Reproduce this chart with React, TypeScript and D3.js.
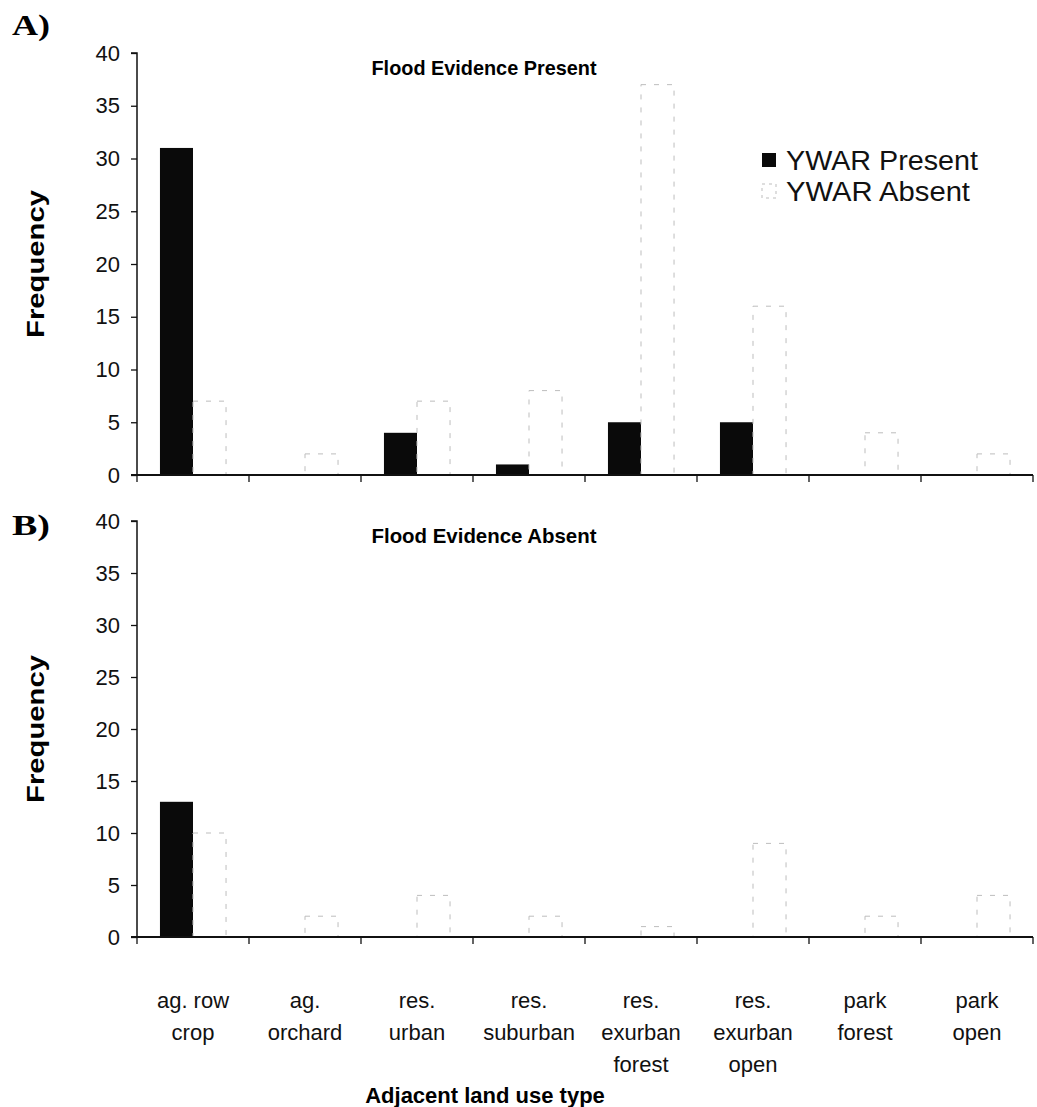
import { useEffect, useRef } from "react";
import * as d3 from "d3";

const categories = [
  ["ag. row", "crop"],
  ["ag.", "orchard"],
  ["res.", "urban"],
  ["res.", "suburban"],
  ["res.", "exurban", "forest"],
  ["res.", "exurban", "open"],
  ["park", "forest"],
  ["park", "open"],
];
const catKeys = categories.map((c) => c.join(" "));

// Panel A: flood evidence present
const floodPresentYwarPresent = [31, 0, 4, 1, 5, 5, 0, 0];
const floodPresentYwarAbsent = [7, 2, 7, 8, 37, 16, 4, 2];
// Panel B: flood evidence absent
const floodAbsentYwarPresent = [13, 0, 0, 0, 0, 0, 0, 0];
const floodAbsentYwarAbsent = [10, 2, 4, 2, 1, 9, 2, 4];

const yTicks = [0, 5, 10, 15, 20, 25, 30, 35, 40];
const seriesNames = ["YWAR Present", "YWAR Absent"];

const W = 1037;
const H = 1107;
const SANS = "'Liberation Sans', Arial, sans-serif";

export default function App() {
  const ref = useRef<SVGSVGElement | null>(null);

  useEffect(() => {
    if (!ref.current) return;
    const svg = d3.select(ref.current);
    svg.selectAll("*").remove();

    const x0 = d3
      .scaleBand<string>()
      .domain(catKeys)
      .range([137, 1033])
      .paddingInner(0.41)
      .paddingOuter(0.205);
    const x1 = d3
      .scaleBand<string>()
      .domain(seriesNames)
      .range([0, x0.bandwidth()]);
    const step = x0.step();
    const edges = catKeys.map((k) => (x0(k) as number) - (step - x0.bandwidth()) / 2);
    edges.push(1033);

    function panel(
      top: number,
      bottom: number,
      present: number[],
      absent: number[],
      title: string,
      letter: string,
      letterY: number
    ) {
      const y = d3.scaleLinear().domain([0, 40]).range([bottom, top]);
      const g = svg.append("g");

      // bars
      const rows = catKeys.map((k, i) => ({ k, p: present[i], a: absent[i] }));
      g.selectAll("rect.pres")
        .data(rows)
        .join("rect")
        .attr("class", "pres")
        .attr("x", (d) => (x0(d.k) as number) + (x1("YWAR Present") as number))
        .attr("y", (d) => y(d.p))
        .attr("width", x1.bandwidth())
        .attr("height", (d) => bottom - y(d.p))
        .attr("fill", "#0a0a0a");
      g.selectAll("rect.abs")
        .data(rows)
        .join("rect")
        .attr("class", "abs")
        .attr("x", (d) => (x0(d.k) as number) + (x1("YWAR Absent") as number))
        .attr("y", (d) => y(d.a))
        .attr("width", x1.bandwidth())
        .attr("height", (d) => bottom - y(d.a))
        .attr("fill", "white")
        .attr("stroke", "#bdbdbd")
        .attr("stroke-width", 1)
        .attr("stroke-dasharray", "5,8");

      // y axis
      const ya = g
        .append("g")
        .attr("transform", "translate(137,0)")
        .call(d3.axisLeft(y).tickValues(yTicks).tickSize(6).tickPadding(11));
      ya.select(".domain").attr("stroke", "#111").attr("stroke-width", 1.5).attr("d", `M-6,${top}H0V${bottom}`);
      ya.selectAll(".tick line").attr("stroke", "#111").attr("stroke-width", 1.3);
      ya.selectAll(".tick text")
        .attr("font-family", SANS)
        .attr("font-size", 22)
        .attr("fill", "#111");

      // x axis
      g.append("line")
        .attr("x1", 131)
        .attr("x2", 1033)
        .attr("y1", bottom)
        .attr("y2", bottom)
        .attr("stroke", "#111")
        .attr("stroke-width", 2);
      g.selectAll("line.xt")
        .data(edges)
        .join("line")
        .attr("class", "xt")
        .attr("x1", (d) => d)
        .attr("x2", (d) => d)
        .attr("y1", bottom)
        .attr("y2", bottom + 7)
        .attr("stroke", "#111")
        .attr("stroke-width", 1.3);

      g.append("text")
        .attr("x", 484)
        .attr("y", top + 22)
        .attr("text-anchor", "middle")
        .attr("font-family", SANS)
        .attr("font-weight", "bold")
        .attr("font-size", 21)
        .attr("textLength", 225)
        .attr("lengthAdjust", "spacingAndGlyphs")
        .text(title);

      g.append("text")
        .attr("transform", `translate(44,${(top + bottom) / 2}) rotate(-90)`)
        .attr("text-anchor", "middle")
        .attr("font-family", SANS)
        .attr("font-weight", "bold")
        .attr("font-size", 24)
        .attr("textLength", 148)
        .attr("lengthAdjust", "spacingAndGlyphs")
        .text("Frequency");

      g.append("text")
        .attr("x", 12)
        .attr("y", letterY)
        .attr("font-family", "'Liberation Serif', 'Times New Roman', serif")
        .attr("font-weight", "bold")
        .attr("font-size", 30)
        .attr("textLength", 38)
        .attr("lengthAdjust", "spacingAndGlyphs")
        .text(letter);
    }

    panel(53, 475, floodPresentYwarPresent, floodPresentYwarAbsent, "Flood Evidence Present", "A)", 35);
    panel(521, 937, floodAbsentYwarPresent, floodAbsentYwarAbsent, "Flood Evidence Absent", "B)", 535);

    // legend
    const lg = svg.append("g");
    seriesNames.forEach((s, i) => {
      const ly = 160 + i * 31;
      lg.append("rect")
        .attr("x", 762)
        .attr("y", ly - 7)
        .attr("width", 14)
        .attr("height", 14)
        .attr("fill", i === 0 ? "#0a0a0a" : "white")
        .attr("stroke", i === 0 ? "none" : "#bdbdbd")
        .attr("stroke-dasharray", "3,4");
      lg.append("text")
        .attr("x", 786)
        .attr("y", ly + 10)
        .attr("font-family", SANS)
        .attr("font-size", 27)
        .attr("fill", "#111")
        .attr("textLength", s === "YWAR Present" ? 192 : 184)
        .attr("lengthAdjust", "spacingAndGlyphs")
        .text(s);
    });

    // category labels
    const labels = svg.append("g");
    categories.forEach((lines, i) => {
      const cx = (x0(catKeys[i]) as number) + x0.bandwidth() / 2;
      const t = labels
        .append("text")
        .attr("text-anchor", "middle")
        .attr("font-family", SANS)
        .attr("font-size", 22)
        .attr("fill", "#111");
      lines.forEach((ln, j) => {
        t.append("tspan")
          .attr("x", cx)
          .attr("y", 1008 + j * 32)
          .text(ln);
      });
    });

    svg
      .append("text")
      .attr("x", 485)
      .attr("y", 1103)
      .attr("text-anchor", "middle")
      .attr("font-family", SANS)
      .attr("font-weight", "bold")
      .attr("font-size", 22)
      .text("Adjacent land use type");
  }, []);

  return (
    <svg
      ref={ref}
      width={W}
      height={H}
      style={{ position: "absolute", left: 0, top: 0, background: "white" }}
    />
  );
}
